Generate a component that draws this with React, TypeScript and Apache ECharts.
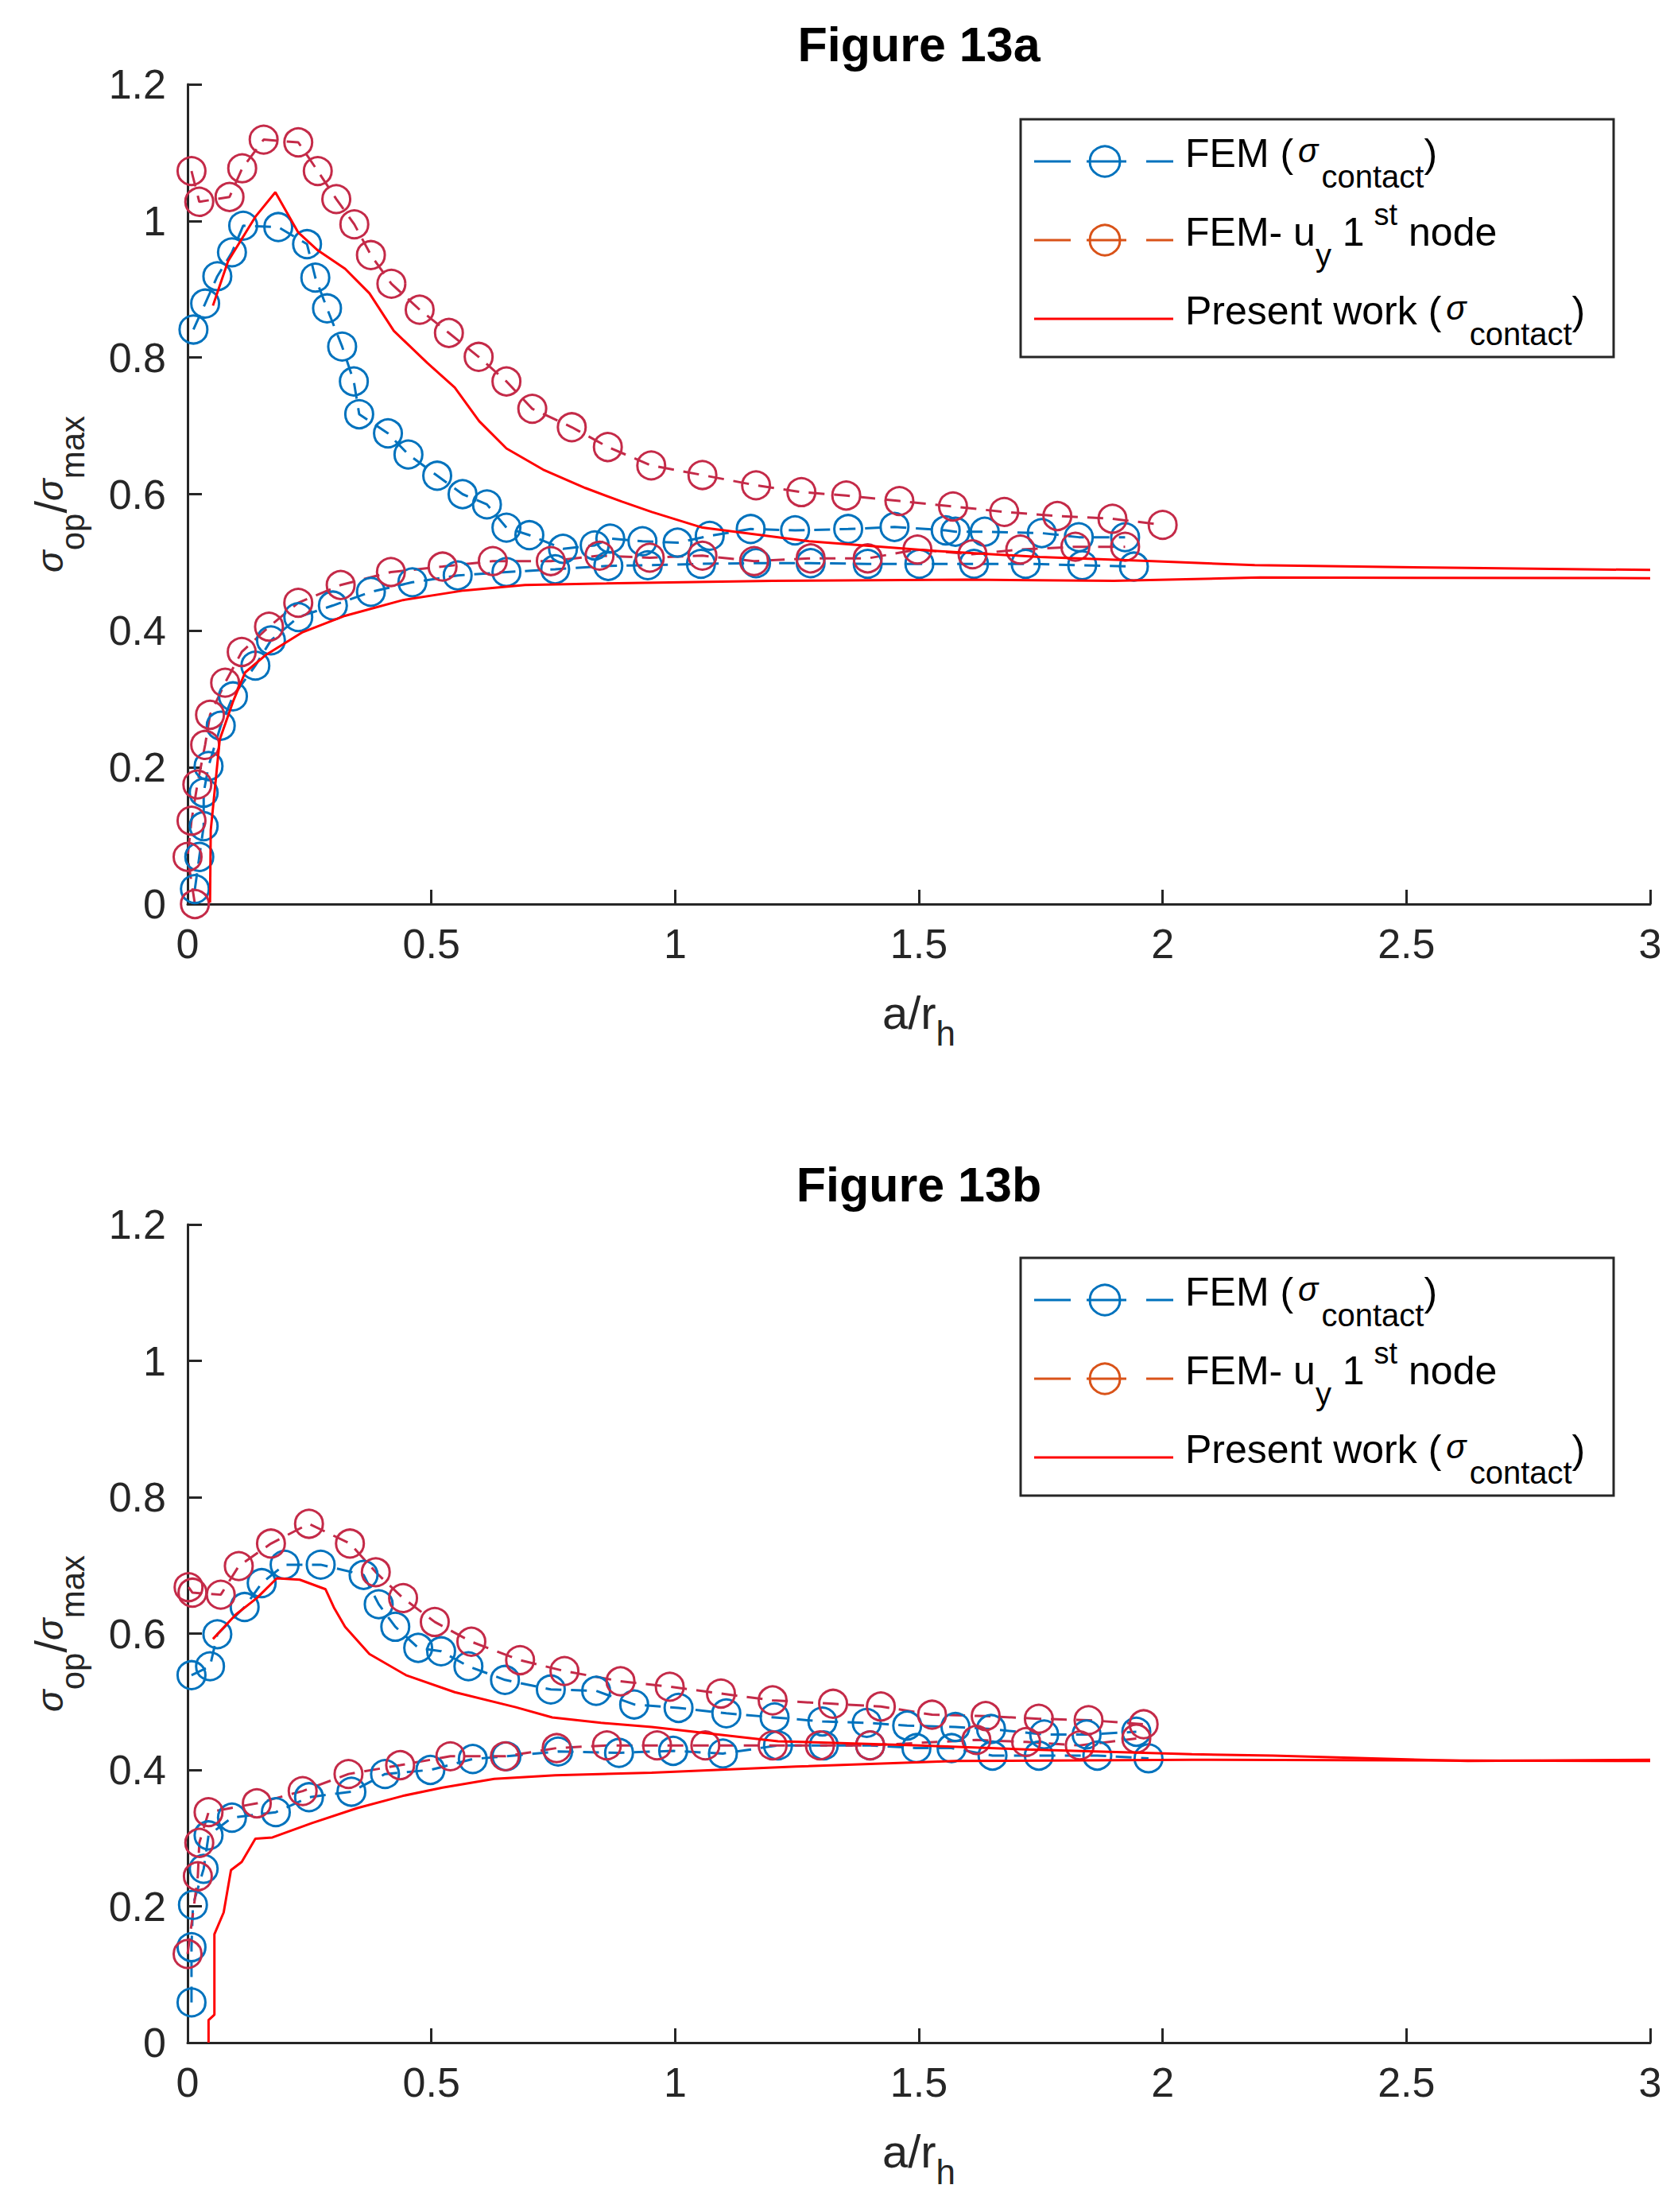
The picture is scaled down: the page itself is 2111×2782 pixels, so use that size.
import React, { useEffect, useRef } from 'react';
import * as echarts from 'echarts';

// axis ranges (same for both panels)
const xMin = 0;
const xMax = 3;
const xStep = 0.5;
const yMin = 0;
const yMax = 1.2;
const yStep = 0.2;

const titles = ['Figure 13a', 'Figure 13b'];

// ---- Figure 13a ----
// FEM (sigma contact), upper branch
const femUpA = [
  [0.012, 0.841], [0.036, 0.879], [0.061, 0.919], [0.091, 0.954], [0.114, 0.993],
  [0.186, 0.991], [0.245, 0.966], [0.262, 0.917], [0.286, 0.872], [0.317, 0.816],
  [0.341, 0.765], [0.352, 0.717], [0.411, 0.689], [0.453, 0.658], [0.512, 0.627],
  [0.564, 0.6], [0.614, 0.585], [0.654, 0.551], [0.701, 0.54], [0.77, 0.52],
  [0.835, 0.525], [0.867, 0.535], [0.933, 0.531], [1.005, 0.529], [1.071, 0.539],
  [1.155, 0.549], [1.246, 0.547], [1.355, 0.549], [1.45, 0.552], [1.555, 0.547],
  [1.575, 0.545], [1.635, 0.545], [1.752, 0.543], [1.828, 0.537], [1.923, 0.537],
];
// FEM (sigma contact), lower branch
const femLowA = [
  [0.015, 0.022], [0.024, 0.069], [0.033, 0.114], [0.033, 0.163], [0.043, 0.202],
  [0.068, 0.261], [0.093, 0.304], [0.139, 0.349], [0.171, 0.386], [0.227, 0.42],
  [0.298, 0.437], [0.376, 0.457], [0.461, 0.471], [0.554, 0.481], [0.654, 0.486],
  [0.754, 0.49], [0.863, 0.495], [0.944, 0.496], [1.053, 0.498], [1.166, 0.499],
  [1.278, 0.499], [1.395, 0.498], [1.501, 0.498], [1.613, 0.498], [1.719, 0.498],
  [1.835, 0.496], [1.941, 0.494],
];
// FEM- uy 1st node, upper branch
const uyUpA = [
  [0.008, 1.073], [0.024, 1.028], [0.086, 1.035], [0.112, 1.077], [0.156, 1.119],
  [0.227, 1.115], [0.267, 1.073], [0.305, 1.032], [0.342, 0.995], [0.376, 0.95],
  [0.418, 0.908], [0.476, 0.87], [0.536, 0.836], [0.597, 0.801], [0.654, 0.765],
  [0.707, 0.725], [0.788, 0.698], [0.862, 0.669], [0.951, 0.642], [1.056, 0.628],
  [1.166, 0.613], [1.259, 0.603], [1.351, 0.598], [1.46, 0.59], [1.57, 0.582],
  [1.675, 0.574], [1.784, 0.568], [1.897, 0.564], [2.0, 0.555],
];
// FEM- uy 1st node, lower branch
const uyLowA = [
  [0.015, 0.0], [0.0, 0.069], [0.008, 0.122], [0.02, 0.175], [0.036, 0.233],
  [0.046, 0.277], [0.077, 0.324], [0.111, 0.369], [0.167, 0.406], [0.227, 0.441],
  [0.314, 0.467], [0.417, 0.486], [0.523, 0.494], [0.626, 0.502], [0.745, 0.502],
  [0.845, 0.51], [0.948, 0.507], [1.056, 0.51], [1.162, 0.502], [1.278, 0.506],
  [1.395, 0.506], [1.497, 0.519], [1.61, 0.512], [1.708, 0.519], [1.821, 0.523],
  [1.923, 0.523],
];
// Present work, upper and lower branch
const presentUpA = [
  [0.052, 0.876], [0.083, 0.941], [0.139, 1.006], [0.18, 1.042], [0.227, 0.983],
  [0.267, 0.957], [0.323, 0.93], [0.373, 0.894], [0.423, 0.839], [0.492, 0.792],
  [0.548, 0.756], [0.598, 0.707], [0.654, 0.667], [0.729, 0.636], [0.816, 0.609],
  [0.891, 0.589], [0.952, 0.574], [1.056, 0.551], [1.275, 0.531], [1.53, 0.517],
  [1.748, 0.508], [1.98, 0.502], [2.189, 0.496], [2.626, 0.492], [3.0, 0.489],
];
const presentLowA = [
  [0.046, 0.002], [0.0475, 0.108], [0.066, 0.241], [0.093, 0.296], [0.118, 0.339],
  [0.161, 0.365], [0.236, 0.398], [0.323, 0.422], [0.442, 0.445], [0.567, 0.459],
  [0.692, 0.467], [0.838, 0.469], [1.2, 0.473], [1.6, 0.475], [1.9, 0.473],
  [2.2, 0.478], [3.0, 0.477],
];

// ---- Figure 13b ----
const femUpB = [
  [0.008, 0.539], [0.046, 0.552], [0.061, 0.599], [0.117, 0.639], [0.152, 0.674],
  [0.199, 0.701], [0.273, 0.701], [0.361, 0.686], [0.392, 0.643], [0.426, 0.61],
  [0.473, 0.579], [0.52, 0.574], [0.576, 0.552], [0.651, 0.532], [0.745, 0.518],
  [0.838, 0.516], [0.916, 0.496], [1.007, 0.491], [1.105, 0.483], [1.204, 0.477],
  [1.302, 0.471], [1.393, 0.469], [1.476, 0.465], [1.575, 0.463], [1.648, 0.46],
  [1.757, 0.452], [1.844, 0.452], [1.946, 0.456],
];
const femLowB = [
  [0.008, 0.059], [0.008, 0.14], [0.011, 0.202], [0.033, 0.255], [0.043, 0.304],
  [0.091, 0.33], [0.181, 0.338], [0.249, 0.36], [0.336, 0.368], [0.405, 0.394],
  [0.498, 0.4], [0.585, 0.416], [0.654, 0.42], [0.76, 0.427], [0.885, 0.425],
  [0.996, 0.428], [1.098, 0.424], [1.211, 0.436], [1.305, 0.436], [1.4, 0.436],
  [1.495, 0.432], [1.567, 0.432], [1.651, 0.421], [1.746, 0.421], [1.866, 0.421],
  [1.971, 0.417],
];
const uyUpB = [
  [0.002, 0.668], [0.01, 0.66], [0.068, 0.657], [0.105, 0.699], [0.171, 0.732],
  [0.249, 0.761], [0.333, 0.732], [0.386, 0.69], [0.442, 0.652], [0.507, 0.617],
  [0.582, 0.588], [0.682, 0.561], [0.773, 0.545], [0.888, 0.53], [0.989, 0.522],
  [1.094, 0.512], [1.2, 0.502], [1.324, 0.497], [1.422, 0.493], [1.527, 0.481],
  [1.637, 0.479], [1.746, 0.475], [1.848, 0.473], [1.961, 0.467],
];
const uyLowB = [
  [0.0, 0.13], [0.021, 0.244], [0.024, 0.293], [0.043, 0.338], [0.142, 0.351],
  [0.236, 0.369], [0.33, 0.394], [0.436, 0.407], [0.539, 0.42], [0.651, 0.42],
  [0.757, 0.432], [0.86, 0.436], [0.963, 0.436], [1.062, 0.436], [1.2, 0.436],
  [1.297, 0.436], [1.4, 0.436], [1.618, 0.444], [1.72, 0.441], [1.83, 0.436],
  [1.946, 0.446],
];
const presentUpB = [
  [0.052, 0.592], [0.099, 0.628], [0.142, 0.652], [0.183, 0.681], [0.23, 0.679],
  [0.283, 0.665], [0.301, 0.637], [0.323, 0.61], [0.373, 0.57], [0.448, 0.539],
  [0.548, 0.514], [0.673, 0.492], [0.748, 0.477], [0.848, 0.469], [0.952, 0.463],
  [1.211, 0.442], [1.502, 0.436], [1.72, 0.43], [2.06, 0.423], [2.226, 0.421],
  [2.626, 0.413], [3.0, 0.415],
];
const presentLowB = [
  [0.043, 0.0], [0.043, 0.033], [0.055, 0.041], [0.055, 0.159], [0.074, 0.191],
  [0.089, 0.253], [0.111, 0.265], [0.139, 0.299], [0.174, 0.301], [0.255, 0.322],
  [0.348, 0.344], [0.442, 0.362], [0.523, 0.374], [0.629, 0.387], [0.754, 0.392],
  [0.952, 0.396], [1.248, 0.405], [1.575, 0.413], [2.06, 0.415], [3.0, 0.413],
];

const FONT = '"Liberation Sans", Arial, Helvetica, sans-serif';
const AXIS = '#262626';
const BLUE = '#0072BD';
const CRIMSON = '#C42A48'; // markers of the uy series
const ORANGE = '#D95319'; // legend colour of the uy series
const RED = '#FF0000';

// plot boxes, in page pixels
const GRID_LEFT = 236;
const GRID_WIDTH = 1840;
const gridTops = [106, 1540];
const gridHeights = [1031, 1029];
const legendTops = [150, 1582];

function femSeries(name: string, data: number[][], color: string, idx: number) {
  return {
    name,
    type: 'line',
    xAxisIndex: idx,
    yAxisIndex: idx,
    data,
    symbol: 'circle',
    symbolSize: 35,
    clip: false,
    silent: true,
    z: 2,
    itemStyle: { color: 'rgba(255,255,255,0)', borderColor: color, borderWidth: 3 },
    lineStyle: { color, width: 3, type: [20, 12] },
  };
}

function presentSeries(name: string, data: number[][], idx: number) {
  return {
    name,
    type: 'line',
    xAxisIndex: idx,
    yAxisIndex: idx,
    data,
    symbol: 'none',
    silent: true,
    z: 3,
    lineStyle: { color: RED, width: 3 },
  };
}

const axisLineStyle = { color: AXIS, width: 3 };

function xAxisFor(idx: number) {
  return {
    type: 'value',
    gridIndex: idx,
    min: xMin,
    max: xMax,
    interval: xStep,
    name: '{m|a/r}{s|h}',
    nameLocation: 'middle',
    nameGap: 89,
    nameTextStyle: {
      rich: {
        m: { fontSize: 58, fontFamily: FONT, color: AXIS, verticalAlign: 'middle' },
        s: { fontSize: 44, fontFamily: FONT, color: AXIS, verticalAlign: 'middle', padding: [51, 0, 0, 0] },
      },
    },
    axisLine: { onZero: false, lineStyle: axisLineStyle },
    axisTick: { inside: true, length: 18, lineStyle: axisLineStyle },
    axisLabel: { fontSize: 52, fontFamily: FONT, color: AXIS, margin: 24 },
    splitLine: { show: false },
  };
}

function yAxisFor(idx: number) {
  return {
    type: 'value',
    gridIndex: idx,
    min: yMin,
    max: yMax,
    interval: yStep,
    name: '{g|σ}{s|op}{m|/}{g|σ}{s|max}',
    nameLocation: 'middle',
    nameGap: 124,
    nameTextStyle: {
      rich: {
        m: { fontSize: 56, fontFamily: FONT, color: AXIS, verticalAlign: 'middle' },
        g: { fontSize: 46, fontFamily: FONT, fontStyle: 'italic', color: AXIS, verticalAlign: 'middle' },
        s: { fontSize: 42, fontFamily: FONT, color: AXIS, verticalAlign: 'middle', padding: [56, 0, 0, 0] },
      },
    },
    axisLine: { onZero: false, lineStyle: axisLineStyle },
    axisTick: { inside: true, length: 18, lineStyle: axisLineStyle },
    axisLabel: { fontSize: 52, fontFamily: FONT, color: AXIS, margin: 27 },
    splitLine: { show: false },
  };
}

const legendRich = {
  m: { fontSize: 50, fontFamily: FONT, fill: '#000', verticalAlign: 'middle' },
  g: { fontSize: 42, fontFamily: FONT, fontStyle: 'italic', fill: '#000', verticalAlign: 'middle', padding: [0, 4, 8, 6] },
  s: { fontSize: 40, fontFamily: FONT, fill: '#000', verticalAlign: 'middle', padding: [58, 0, 0, 0] },
  p: { fontSize: 38, fontFamily: FONT, fill: '#000', verticalAlign: 'middle', padding: [0, 0, 44, 12] },
};

const legendRows = [
  { text: '{m|FEM (}{g|σ}{s|contact}{m|)}', color: BLUE, marker: true },
  { text: '{m|FEM- u}{s|y}{m| 1}{p|st}{m| node}', color: ORANGE, marker: true },
  { text: '{m|Present work (}{g|σ}{s|contact}{m|)}', color: RED, marker: false },
];

// MATLAB style legend box drawn by hand ("— o —" icons)
function legendElements(top: number) {
  const els: any[] = [
    {
      type: 'rect',
      shape: { x: 1284, y: top, width: 746, height: 299 },
      style: { fill: '#fff', stroke: AXIS, lineWidth: 3 },
    },
  ];
  legendRows.forEach((row, i) => {
    const cy = top + 53 + i * 99;
    const segs = row.marker ? [[1301, 1347], [1367, 1417], [1442, 1476]] : [[1301, 1476]];
    segs.forEach(([x1, x2]) => {
      els.push({
        type: 'line',
        shape: { x1, y1: cy, x2, y2: cy },
        style: { stroke: row.color, lineWidth: 3 },
      });
    });
    if (row.marker) {
      els.push({
        type: 'circle',
        shape: { cx: 1390, cy, r: 19 },
        style: { fill: 'none', stroke: row.color, lineWidth: 3 },
      });
    }
    els.push({
      type: 'text',
      x: 1491,
      y: cy - 10,
      style: { text: row.text, rich: legendRich, align: 'left', verticalAlign: 'middle' },
    });
  });
  return els;
}

function App() {
  const chartRef = useRef<HTMLDivElement>(null);

  useEffect(() => {
    if (!chartRef.current) return undefined;
    document.body.style.margin = '0';

    const option = {
      animation: false,
      title: titles.map((t, i) => ({
        text: t,
        left: GRID_LEFT + GRID_WIDTH / 2,
        top: i === 0 ? 25 : 1459,
        textAlign: 'center',
        padding: 0,
        textStyle: { fontSize: 61, fontWeight: 'bold', fontFamily: FONT, color: '#000' },
      })),
      grid: gridTops.map((top, i) => ({
        left: GRID_LEFT,
        top,
        width: GRID_WIDTH,
        height: gridHeights[i],
      })),
      xAxis: [xAxisFor(0), xAxisFor(1)],
      yAxis: [yAxisFor(0), yAxisFor(1)],
      series: [
        femSeries('FEM (σcontact)', femUpA, BLUE, 0),
        femSeries('FEM (σcontact)', femLowA, BLUE, 0),
        femSeries('FEM- uy 1st node', uyUpA, CRIMSON, 0),
        femSeries('FEM- uy 1st node', uyLowA, CRIMSON, 0),
        presentSeries('Present work (σcontact)', presentUpA, 0),
        presentSeries('Present work (σcontact)', presentLowA, 0),
        femSeries('FEM (σcontact)', femUpB, BLUE, 1),
        femSeries('FEM (σcontact)', femLowB, BLUE, 1),
        femSeries('FEM- uy 1st node', uyUpB, CRIMSON, 1),
        femSeries('FEM- uy 1st node', uyLowB, CRIMSON, 1),
        presentSeries('Present work (σcontact)', presentUpB, 1),
        presentSeries('Present work (σcontact)', presentLowB, 1),
      ],
      graphic: { elements: [...legendElements(legendTops[0]), ...legendElements(legendTops[1])] },
    };

    const myChart = echarts.init(chartRef.current, null, { renderer: 'svg' });
    myChart.setOption(option as any);

    return () => {
      myChart.dispose();
    };
  }, []);

  return <div ref={chartRef} style={{ width: '2111px', height: '2782px' }} />;
}

export default App;
